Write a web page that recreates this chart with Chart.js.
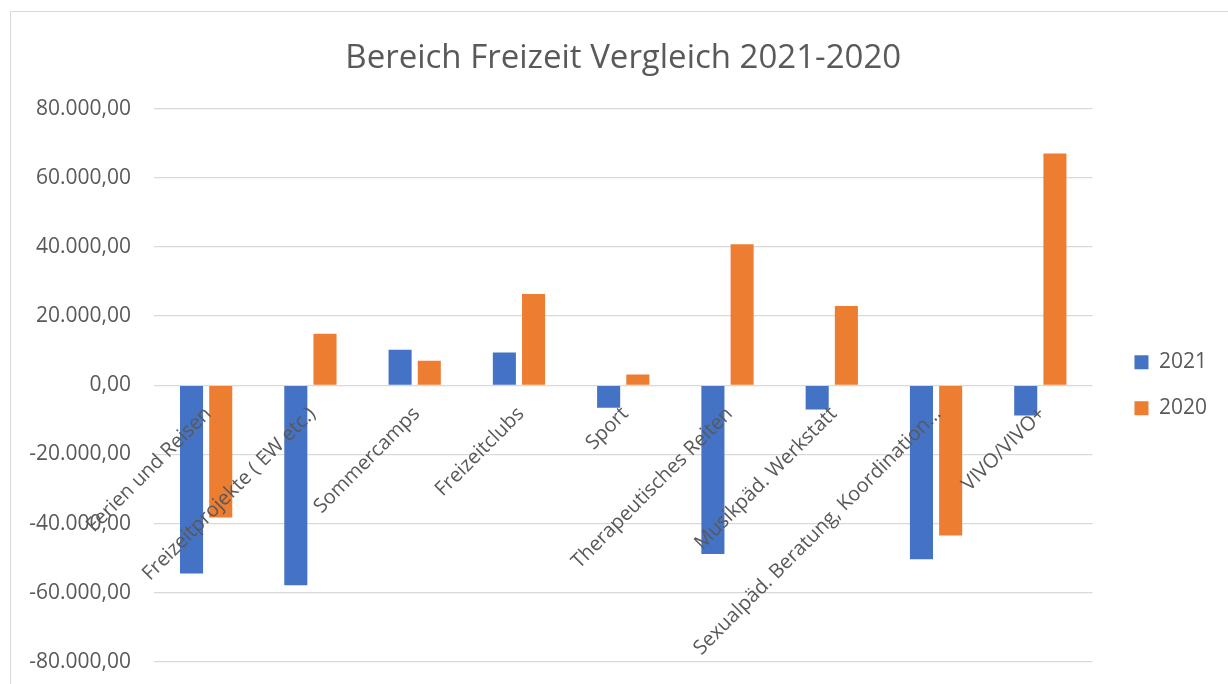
<!DOCTYPE html>
<html lang="de">
<head>
<meta charset="utf-8">
<title>Bereich Freizeit Vergleich 2021-2020</title>
<script src="https://cdn.jsdelivr.net/npm/chart.js@4.4.1/dist/chart.umd.min.js"></script>
<style>
  html, body { margin: 0; padding: 0; background: #fff; overflow: hidden; }
  #wrap { position: relative; width: 1228px; height: 684px; }
  #frame { position: absolute; left: 10px; top: 11px; width: 1400px; height: 900px; border: 1.5px solid #d9d9d9; box-sizing: border-box; pointer-events: none; }
</style>
</head>
<body>
<div id="wrap">
  <div id="frame"></div>
  <canvas id="chart"></canvas>
</div>
<script>
const categories = [
  'Ferien und Reisen',
  'Freizeitprojekte ( EW etc.)',
  'Sommercamps',
  'Freizeitclubs',
  'Sport',
  'Therapeutisches Reiten',
  'Musikpäd. Werkstatt',
  'Sexualpäd. Beratung, Koordination…',
  'VIVO/VIVO+',
];
const values2021 = [-54400, -57800, 10300, 9500, -6500, -48800, -7000, -50300, -8700];
const values2020 = [-38200, 14900, 7100, 26400, 3100, 40800, 22900, -43400, 67000];
const yMin = -80000;
const yMax = 80000;
const yStep = 20000;

const GREY = '#595959';
const FONT = "'Open Sans', 'DejaVu Sans', sans-serif";

// 80.000,00 style numbers
function fmtDe(v) {
  const parts = Math.abs(v).toFixed(2).split('.');
  const int = parts[0].replace(/\B(?=(\d{3})+(?!\d))/g, '.');
  return (v < 0 ? '-' : '') + int + ',' + parts[1];
}

const ctx = document.getElementById('chart').getContext('2d');
new Chart(ctx, {
  type: 'bar',
  data: {
    labels: categories,
    datasets: [
      { label: '2021', data: values2021, backgroundColor: '#4472c4', borderWidth: 0 },
      { label: '2020', data: values2020, backgroundColor: '#ed7d31', borderWidth: 0 },
    ],
  },
  options: {
    responsive: true,
    maintainAspectRatio: false,
    animation: false,
    categoryPercentage: 0.56,
    barPercentage: 0.79,
    layout: { padding: { left: 0, right: 11, top: 0, bottom: 22 } },
    plugins: {
      title: {
        display: true,
        fullSize: false,
        text: 'Bereich Freizeit Vergleich 2021-2020',
        color: GREY,
        font: { family: FONT, size: 33, weight: 'normal' },
        padding: { top: 39, bottom: 30 },
      },
      legend: {
        position: 'right',
        align: 'center',
        fullSize: false,
        labels: {
          color: GREY,
          font: { family: FONT, size: 21 },
          boxWidth: 14,
          boxHeight: 14,
          padding: 25,
        },
      },
      tooltip: { enabled: false },
    },
    scales: {
      x: {
        position: { y: 0 },
        grid: { display: false, drawTicks: false },
        border: { display: false },
        ticks: {
          z: 1,
          color: GREY,
          font: { family: FONT, size: 20 },
          minRotation: 45,
          maxRotation: 45,
          autoSkip: false,
          padding: 17,
          labelOffset: 2,
        },
      },
      y: {
        min: yMin,
        max: yMax,
        afterFit: s => {
          s.width = 154;
          s.paddingTop = 13;
          s.paddingBottom = 13;
        },
        grid: { color: '#d9d9d9', lineWidth: 1.3, drawTicks: false },
        border: { display: false },
        ticks: {
          stepSize: yStep,
          color: GREY,
          font: { family: FONT, size: 21 },
          padding: 23,
          callback: v => fmtDe(v),
        },
      },
      gap: {
        position: 'right',
        afterFit: s => { s.width = 17; },
        grid: { display: false },
        border: { display: false },
        ticks: { display: false },
      },
    },
  },
});
</script>
</body>
</html>
